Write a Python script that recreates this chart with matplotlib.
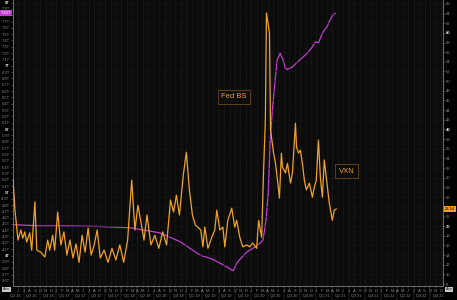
import matplotlib
matplotlib.use("Agg")
import matplotlib.pyplot as plt
import matplotlib.dates as mdates
import matplotlib.transforms as mtrans
import matplotlib.ticker as mticker
import pandas as pd
import numpy as np

# ---------------------------------------------------------------
# data (Fed balance sheet in $T, VXN index)
# ---------------------------------------------------------------
fed_dates = ["2016-05-02", "2016-10-01", "2017-03-17", "2017-09-03", "2018-02-20",
             "2018-08-06", "2018-11-27", "2019-03-18", "2019-05-31", "2019-08-18",
             "2019-09-21", "2019-10-13", "2019-11-10", "2019-12-08", "2020-01-12",
             "2020-02-20", "2020-03-07", "2020-03-24", "2020-04-05", "2020-04-16",
             "2020-04-27", "2020-05-14", "2020-05-25", "2020-06-11", "2020-06-28",
             "2020-07-09", "2020-07-20", "2020-08-18", "2020-09-16", "2020-10-14",
             "2020-11-11", "2020-12-09", "2020-12-26", "2021-01-12", "2021-02-04",
             "2021-03-02", "2021-03-19", "2021-04-05", "2021-04-16"]
fed_bs = [4.49, 4.47, 4.47, 4.46, 4.44,
          4.36, 4.22, 4.01, 3.94, 3.82,
          3.76, 3.89, 3.98, 4.06, 4.12,
          4.20, 4.25, 4.57, 5.00, 5.80,
          6.25, 6.78, 7.09, 7.20, 7.09,
          6.97, 6.94, 6.98, 7.06, 7.13,
          7.20, 7.30, 7.38, 7.36, 7.52,
          7.62, 7.73, 7.81, 7.83]

vxn_dates = ["2016-05-02", "2016-05-13", "2016-05-30", "2016-06-15", "2016-06-26",
             "2016-07-07", "2016-07-18", "2016-08-04", "2016-08-15", "2016-09-02",
             "2016-09-13", "2016-10-05", "2016-10-28", "2016-11-13", "2016-11-24",
             "2016-12-11", "2016-12-22", "2017-01-08", "2017-01-26", "2017-02-12",
             "2017-03-01", "2017-03-18", "2017-04-04", "2017-04-21", "2017-05-08",
             "2017-05-25", "2017-06-11", "2017-06-28", "2017-07-15", "2017-08-01",
             "2017-08-18", "2017-09-04", "2017-09-26", "2017-10-18", "2017-11-09",
             "2017-12-01", "2017-12-23", "2018-01-14", "2018-02-05", "2018-02-28",
             "2018-03-18", "2018-04-04", "2018-04-21", "2018-05-08", "2018-05-25",
             "2018-06-16", "2018-07-08", "2018-07-30", "2018-08-21", "2018-09-12",
             "2018-10-04", "2018-10-21", "2018-11-06", "2018-11-23", "2018-12-15",
             "2019-01-01", "2019-01-18", "2019-02-04", "2019-02-21", "2019-03-23",
             "2019-04-04", "2019-04-15", "2019-05-02", "2019-05-24", "2019-06-10",
             "2019-06-21", "2019-07-08", "2019-07-25", "2019-08-05", "2019-08-22",
             "2019-09-13", "2019-09-30", "2019-10-11", "2019-10-28", "2019-11-14",
             "2019-12-06", "2019-12-23", "2020-01-09", "2020-01-31", "2020-02-11",
             "2020-02-28", "2020-03-10", "2020-03-20", "2020-03-26", "2020-04-12",
             "2020-04-18", "2020-05-05", "2020-05-16", "2020-05-27", "2020-06-07",
             "2020-06-18", "2020-06-24", "2020-07-11", "2020-07-22", "2020-08-08",
             "2020-08-19", "2020-09-05", "2020-09-11", "2020-09-22", "2020-10-03",
             "2020-10-14", "2020-10-25", "2020-11-05", "2020-11-22", "2020-12-09",
             "2020-12-20", "2020-12-31", "2021-01-12", "2021-01-23", "2021-02-03",
             "2021-02-14", "2021-02-25", "2021-03-14", "2021-03-31", "2021-04-11",
             "2021-04-22"]
vxn = [29.7, 23.3, 17.1, 19.2, 17.5,
       18.8, 16.7, 18.6, 15.0, 25.0,
       15.0, 14.6, 13.6, 17.1, 15.0,
       18.1, 15.0, 22.9, 16.1, 18.8,
       14.0, 17.1, 13.4, 16.3, 12.5,
       18.1, 14.6, 19.6, 14.0, 16.1,
       19.2, 13.4, 15.0, 12.5, 15.4,
       13.0, 16.1, 12.5, 17.1, 29.5,
       19.2, 24.3, 20.8, 17.1, 22.3,
       16.1, 18.1, 15.4, 18.8, 16.1,
       25.4, 22.9, 26.4, 22.3, 30.6,
       35.3, 27.5, 22.3, 20.2, 19.2,
       15.7, 19.8, 15.4, 17.7, 19.2,
       23.3, 19.2, 19.8, 15.7, 21.2,
       23.7, 19.8, 21.2, 17.7, 15.7,
       16.1, 15.7, 16.5, 15.4, 21.2,
       17.7, 31.6, 42.0, 64.1, 60.0,
       39.9, 35.1, 33.0, 29.5, 25.8,
       35.1, 32.2, 31.0, 33.0, 28.9,
       31.0, 41.3, 36.4, 35.1, 35.7,
       33.0, 29.5, 27.5, 28.9, 26.0,
       28.1, 29.5, 37.8, 30.1, 26.0,
       33.7, 30.1, 24.8, 21.2, 23.3,
       23.54]

left_ticks = np.round(np.arange(3.6, 8.01, 0.1), 1)
right_ticks = list(range(8, 67, 2))

# ---------------------------------------------------------------
# style
# ---------------------------------------------------------------
purple = "#c03ed0"
orange = "#f0a228"
txt = "#8c8c8c"
txt_bold = "#d8d8d8"
plt.rcParams["font.family"] = ["Liberation Sans", "DejaVu Sans"]

fig = plt.figure(figsize=(4.57, 3.0), dpi=100, facecolor="black")
ax = fig.add_axes([13 / 457, 14 / 300, 430 / 457, 286 / 300])
ax.set_facecolor("#0b0b0b")
ax2 = ax.twinx()

ax.plot(pd.to_datetime(fed_dates), fed_bs, color=purple, lw=0.9, zorder=3)
ax2.plot(pd.to_datetime(vxn_dates), vxn, color=orange, lw=0.9, zorder=3)

ax.set_xlim(pd.Timestamp("2016-05-02"), pd.Timestamp("2022-12-13"))
ax.set_ylim(3.52, 8.04)
ax2.set_ylim(7.6, 66.8)


def is_int(v):
    return abs(v - round(v)) < 1e-6


# left axis: Fed BS (label under the last-value tag is hidden by it)
left_labels = []
for v in left_ticks:
    if abs(v - fed_bs[-1]) < 0.06:
        left_labels.append("")
    elif is_int(v):
        left_labels.append(f"{int(round(v))}T")
    else:
        left_labels.append(f"{v:.1f}T")
ax.set_yticks(left_ticks, left_labels)
for lab, v in zip(ax.get_yticklabels(), left_ticks):
    if is_int(v):
        lab.set_color(txt_bold)
        lab.set_fontweight("bold")
    else:
        lab.set_color(txt)
ax.tick_params(axis="y", labelsize=3, length=1.5, width=0.4, color="#777777", pad=0.8)

# right axis: VXN
right_labels = ["" if abs(v - vxn[-1]) < 1.5 else str(v) for v in right_ticks]
ax2.set_yticks(right_ticks, right_labels)
for lab, v in zip(ax2.get_yticklabels(), right_ticks):
    if v % 20 == 0:
        lab.set_color(txt_bold)
        lab.set_fontweight("bold")
    else:
        lab.set_color(txt)
ax2.tick_params(axis="y", labelsize=3, length=1.5, width=0.4, color="#777777", pad=0.8)

# x axis: month letters + quarter separators/labels
ax.xaxis.set_minor_locator(mdates.MonthLocator())
ax.xaxis.set_minor_formatter(mticker.FuncFormatter(
    lambda x, pos: mdates.num2date(x).strftime("%b")[0]))
ax.xaxis.set_major_locator(mdates.MonthLocator(bymonth=[1, 4, 7, 10]))
ax.xaxis.set_major_formatter(mticker.NullFormatter())
ax.xaxis.remove_overlapping_locs = False
ax.tick_params(axis="x", which="minor", labelsize=3, length=1.2, width=0.3,
               color="#777777", labelcolor=txt, pad=0.8)
ax.tick_params(axis="x", which="major", length=12, width=0.3, color="#555555")

trans = mtrans.blended_transform_factory(ax.transData, ax.transAxes)
for q in pd.date_range("2016-04-01", "2022-10-01", freq="QS"):
    mid = q + pd.Timedelta(days=45)
    if mid < pd.Timestamp("2016-05-02") or mid > pd.Timestamp("2022-12-13"):
        continue
    ax.text(mid, -0.036, f"Q{(q.month - 1) // 3 + 1} {q.year % 100:02d}", transform=trans,
            ha="center", va="center", fontsize=2.8, color=txt, clip_on=False)

# grid
ax.grid(which="minor", axis="x", color="#181818", lw=0.5)
ax.grid(which="major", axis="x", color="#181818", lw=0.5)
ax2.grid(axis="y", color="#141414", lw=0.4)
ax.set_axisbelow(True)

for a in (ax, ax2):
    for s in a.spines.values():
        s.set_color("#777777")
        s.set_linewidth(0.5)
    a.spines["top"].set_visible(False)

# series labels
ax.text(pd.Timestamp("2019-09-27"), 6.51, "Fed BS", color=orange, fontsize=5.5,
        ha="center", va="center", zorder=5,
        bbox=dict(boxstyle="square,pad=0.45", fc="#0c0c0c", ec="#6b4a1a", lw=0.6))
ax2.text(pd.Timestamp("2021-06-18"), 31.4, "VXN", color=orange, fontsize=5.5,
         ha="center", va="center", zorder=5,
         bbox=dict(boxstyle="square,pad=0.45", fc="#0c0c0c", ec="#6b4a1a", lw=0.6))

# last value tags on the axes
tl = mtrans.blended_transform_factory(ax.transAxes, ax.transData)
ax.text(-0.004, fed_bs[-1], f"{fed_bs[-1]:.2f}T", transform=tl, ha="right", va="center",
        fontsize=3, color="white", clip_on=False, zorder=6,
        bbox=dict(boxstyle="square,pad=0.25", fc=purple, ec="none"))
tr = mtrans.blended_transform_factory(ax2.transAxes, ax2.transData)
ax2.text(1.004, vxn[-1], f"{vxn[-1]:.2f}", transform=tr, ha="left", va="center",
         fontsize=3, color="black", clip_on=False, zorder=6,
         bbox=dict(boxstyle="square,pad=0.25", fc=orange, ec="none"))

# little axis buttons at the corners
for xx in (0.014, 0.983):
    fig.text(xx, 0.035, "Axis", fontsize=2.6, color="#222222", ha="center", va="center",
             bbox=dict(boxstyle="square,pad=0.2", fc="#c8c8c8", ec="none"))

fig.savefig("out.png", dpi=100, facecolor="black")
